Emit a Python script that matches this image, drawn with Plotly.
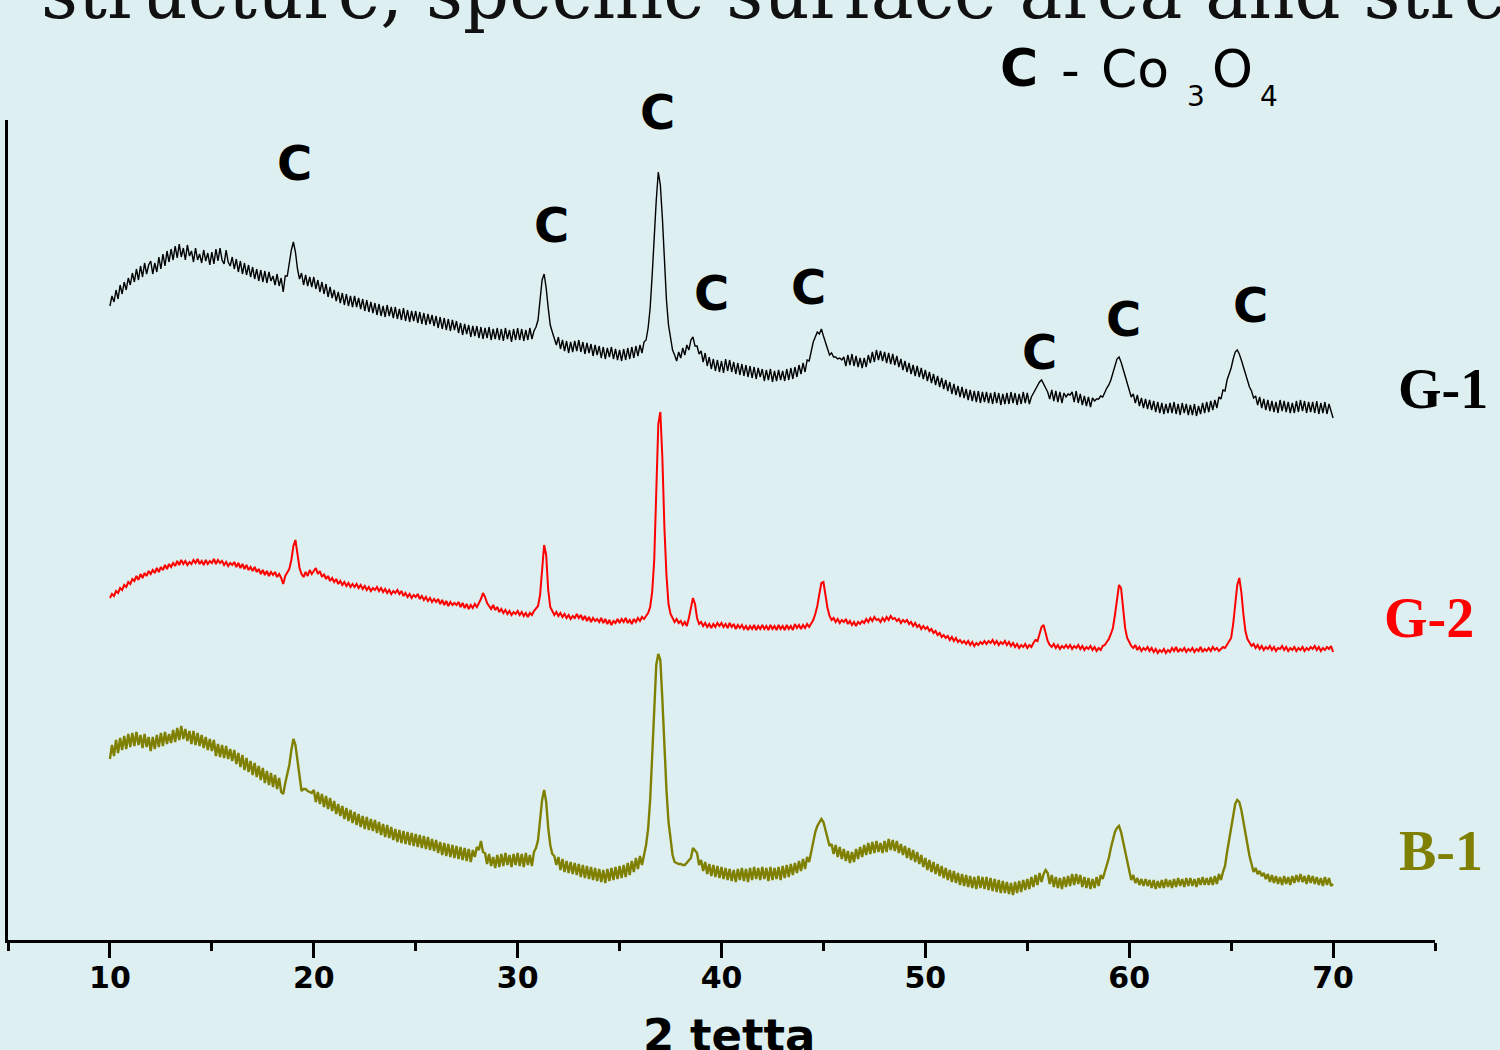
import numpy as np
import plotly.graph_objects as go

# ---------------- data (2-theta from 10.0 to 70.0 in 0.1 steps) -------------
G1 = [
    634, 644, 638, 650, 641, 655, 646, 658, 650, 662,
    655, 667, 658, 671, 660, 674, 663, 677, 666, 675,
    679, 666, 677, 668, 683, 671, 686, 674, 689, 678,
    691, 680, 694, 682, 696, 683, 692, 680, 695, 684,
    689, 678, 692, 680, 686, 677, 690, 679, 687, 675,
    688, 676, 691, 679, 692, 680, 676, 690, 678, 674,
    683, 671, 681, 668, 679, 666, 677, 665, 675, 663,
    673, 661, 671, 659, 670, 658, 669, 657, 668, 659,
    664, 655, 666, 654, 662, 648, 664, 664, 677, 690,
    698, 688, 671, 661, 667, 655, 665, 654, 663, 653,
    663, 651, 660, 648, 658, 646, 656, 643, 653, 642,
    650, 639, 648, 637, 647, 635, 646, 634, 644, 633,
    644, 633, 642, 631, 641, 629, 640, 628, 638, 627,
    637, 625, 636, 624, 634, 623, 635, 624, 633, 622,
    633, 621, 631, 620, 632, 619, 630, 618, 629, 619,
    629, 617, 628, 616, 627, 615, 626, 616, 625, 614,
    624, 612, 623, 611, 622, 610, 621, 609, 620, 610,
    619, 607, 617, 605, 616, 606, 615, 603, 614, 604,
    614, 602, 613, 601, 612, 602, 613, 600, 611, 601,
    612, 600, 611, 599, 612, 601, 610, 598, 611, 600,
    612, 600, 611, 599, 610, 600, 612, 601, 609, 613,
    620, 640, 660, 666, 652, 632, 615, 608, 600, 595,
    603, 591, 600, 589, 599, 587, 598, 588, 599, 589,
    600, 588, 598, 586, 597, 587, 596, 584, 595, 585,
    594, 582, 593, 581, 592, 583, 593, 581, 591, 580,
    590, 579, 591, 580, 592, 581, 593, 582, 594, 584,
    595, 587, 598, 600, 612, 632, 665, 705, 740, 768,
    755, 722, 680, 640, 615, 600, 590, 585, 579, 588,
    582, 592, 585, 595, 590, 600, 603, 594, 594, 586,
    589, 578, 587, 574, 583, 571, 581, 569, 580, 568,
    579, 567, 581, 569, 580, 568, 578, 566, 577, 565,
    576, 564, 575, 563, 574, 562, 573, 561, 572, 563,
    571, 559, 570, 560, 571, 558, 569, 559, 570, 560,
    569, 559, 571, 560, 572, 561, 573, 563, 575, 566,
    577, 568, 580, 579, 590, 598, 603, 608, 606, 611,
    604, 598, 592, 585, 587, 583, 583, 581, 582, 580,
    583, 574, 585, 575, 586, 574, 584, 573, 582, 572,
    582, 573, 585, 577, 588, 578, 590, 580, 589, 579,
    588, 577, 587, 576, 586, 575, 584, 573, 581, 570,
    579, 568, 577, 566, 575, 564, 574, 563, 572, 561,
    570, 559, 568, 557, 566, 555, 564, 553, 562, 551,
    560, 549, 558, 546, 556, 545, 554, 543, 553, 542,
    551, 540, 550, 539, 549, 538, 549, 537, 548, 538,
    548, 537, 547, 536, 548, 537, 547, 535, 546, 536,
    547, 536, 548, 537, 547, 535, 546, 536, 548, 537,
    547, 536, 543, 547, 551, 554, 558, 560, 556, 551,
    548, 541, 550, 539, 549, 538, 548, 537, 547, 543,
    546, 545, 548, 538, 549, 537, 546, 535, 544, 534,
    543, 533, 542, 539, 541, 541, 544, 543, 548, 552,
    555, 560, 567, 575, 581, 583, 578, 571, 564, 556,
    551, 543, 546, 537, 545, 534, 542, 532, 541, 531,
    540, 530, 539, 528, 538, 527, 537, 526, 536, 527,
    537, 527, 538, 526, 536, 525, 537, 527, 536, 525,
    535, 525, 536, 524, 534, 526, 537, 527, 538, 528,
    539, 530, 540, 532, 543, 541, 550, 549, 560, 566,
    572, 581, 588, 590, 586, 580, 573, 565, 558, 553,
    549, 542, 544, 535, 543, 532, 541, 530, 540, 529,
    539, 528, 538, 527, 540, 529, 539, 528, 538, 527,
    537, 527, 539, 528, 540, 529, 539, 527, 538, 528,
    538, 527, 539, 526, 537, 527, 538, 526, 536, 528,
    522,
]

G2 = [
    342, 346, 344, 349, 347, 352, 350, 355, 353, 358,
    356, 361, 359, 364, 360, 366, 362, 367, 364, 369,
    366, 370, 367, 372, 368, 373, 370, 375, 371, 376,
    373, 377, 374, 379, 375, 380, 376, 379, 375, 378,
    376, 380, 377, 381, 376, 379, 375, 380, 376, 379,
    377, 381, 376, 380, 377, 379, 375, 378, 374, 377,
    375, 378, 373, 377, 372, 376, 371, 375, 370, 373,
    369, 373, 368, 371, 366, 370, 365, 369, 364, 368,
    365, 368, 363, 366, 362, 356, 364, 367, 371, 380,
    394, 400, 385, 372, 366, 363, 368, 364, 370, 366,
    369, 372, 366, 369, 363, 366, 361, 364, 359, 362,
    358, 361, 356, 359, 355, 358, 354, 357, 353, 356,
    353, 356, 352, 355, 351, 354, 350, 353, 349, 352,
    350, 353, 349, 352, 348, 351, 347, 350, 346, 349,
    347, 350, 346, 349, 344, 347, 343, 346, 342, 345,
    343, 346, 341, 344, 340, 343, 339, 342, 338, 341,
    338, 341, 336, 340, 335, 339, 334, 338, 335, 337,
    335, 338, 333, 337, 332, 336, 331, 335, 332, 336,
    333, 337, 341, 347, 343, 337, 334, 331, 335, 330,
    333, 328, 331, 327, 330, 326, 329, 325, 328, 326,
    329, 325, 328, 324, 327, 323, 327, 325, 329, 331,
    334, 345, 372, 395, 385, 350, 333, 329, 325, 328,
    324, 327, 323, 326, 322, 325, 321, 324, 322, 326,
    322, 325, 320, 324, 319, 323, 318, 322, 319, 321,
    318, 322, 317, 321, 316, 320, 315, 319, 317, 321,
    317, 321, 318, 322, 317, 320, 316, 321, 318, 322,
    319, 323, 321, 324, 327, 333, 348, 380, 455, 516,
    528, 482, 412, 365, 336, 326, 322, 318, 321, 317,
    319, 315, 318, 314, 322, 332, 342, 336, 322, 316,
    318, 314, 317, 313, 316, 312, 316, 313, 317, 314,
    317, 313, 316, 312, 317, 313, 316, 311, 315, 312,
    315, 311, 314, 310, 314, 311, 315, 310, 314, 311,
    315, 311, 314, 310, 315, 311, 314, 310, 315, 311,
    314, 310, 315, 311, 314, 310, 316, 312, 315, 311,
    315, 312, 316, 313, 317, 320, 326, 334, 346, 357,
    358, 345, 332, 324, 320, 322, 318, 321, 317, 320,
    318, 321, 316, 319, 315, 318, 314, 318, 316, 319,
    317, 321, 318, 322, 319, 323, 320, 321, 318, 322,
    319, 323, 320, 324, 321, 322, 319, 321, 317, 320,
    318, 320, 316, 318, 314, 317, 313, 315, 311, 314,
    311, 313, 309, 311, 307, 309, 305, 307, 303, 305,
    302, 304, 300, 303, 299, 302, 298, 300, 297, 299,
    296, 299, 295, 298, 294, 297, 295, 298, 296, 299,
    296, 299, 297, 300, 296, 299, 295, 298, 296, 299,
    295, 298, 294, 297, 293, 296, 292, 295, 293, 296,
    292, 295, 293, 297, 300, 299, 305, 313, 315, 306,
    299, 295, 293, 296, 292, 295, 291, 294, 292, 295,
    292, 295, 291, 294, 292, 295, 291, 294, 290, 293,
    291, 294, 290, 293, 289, 292, 290, 294, 295, 298,
    301, 306, 312, 325, 342, 355, 352, 330, 312, 302,
    298, 294, 292, 295, 290, 293, 289, 292, 290, 293,
    289, 292, 288, 291, 287, 290, 288, 291, 287, 290,
    288, 292, 289, 293, 288, 291, 289, 292, 288, 291,
    289, 292, 288, 291, 289, 293, 288, 291, 289, 292,
    289, 293, 290, 292, 289, 291, 293, 292, 295, 298,
    302, 316, 335, 355, 362, 348, 326, 309, 301, 297,
    294, 296, 292, 295, 291, 294, 290, 293, 291, 294,
    290, 293, 289, 292, 291, 294, 290, 293, 289, 292,
    290, 293, 289, 292, 290, 293, 289, 292, 290, 293,
    291, 294, 290, 293, 289, 292, 290, 293, 291, 294,
    288,
]

B1 = [
    181, 195, 184, 200, 187, 202, 190, 204, 191, 206,
    193, 207, 194, 208, 195, 205, 192, 206, 193, 203,
    189, 203, 191, 205, 193, 207, 194, 208, 196, 206,
    197, 210, 198, 212, 200, 214, 201, 211, 199, 209,
    196, 209, 195, 207, 194, 205, 192, 203, 190, 201,
    189, 200, 184, 196, 183, 195, 182, 194, 181, 191,
    179, 190, 176, 187, 173, 185, 170, 182, 168, 179,
    165, 177, 163, 174, 160, 172, 157, 169, 155, 167,
    153, 165, 151, 162, 148, 146, 157, 166, 175, 190,
    201, 195, 178, 160, 149, 151, 151, 149, 148, 147,
    150, 138, 148, 136, 146, 133, 144, 131, 142, 129,
    139, 126, 136, 124, 134, 121, 132, 119, 130, 117,
    128, 115, 126, 113, 124, 111, 123, 110, 121, 109,
    120, 107, 118, 105, 116, 103, 115, 102, 113, 100,
    111, 98, 110, 97, 109, 96, 108, 95, 107, 94,
    106, 93, 105, 92, 104, 91, 103, 90, 101, 89,
    100, 87, 98, 85, 97, 84, 96, 83, 95, 82,
    94, 81, 93, 80, 92, 79, 91, 78, 90, 83,
    93, 90, 99, 88, 87, 76, 86, 74, 83, 72,
    85, 73, 86, 74, 87, 75, 85, 73, 86, 75,
    87, 74, 86, 73, 87, 75, 85, 74, 88, 92,
    100, 120, 140, 150, 138, 112, 95, 86, 84, 75,
    83, 70, 81, 68, 79, 67, 78, 66, 77, 65,
    76, 63, 75, 62, 74, 61, 73, 60, 72, 59,
    71, 58, 70, 57, 71, 59, 72, 60, 73, 61,
    74, 62, 75, 63, 77, 65, 79, 68, 82, 71,
    84, 75, 86, 95, 111, 140, 184, 235, 275, 286,
    280, 240, 190, 150, 118, 98, 85, 78, 77, 76,
    76, 75, 75, 77, 79, 82, 92, 90, 87, 75,
    80, 69, 78, 66, 76, 64, 75, 63, 74, 62,
    73, 61, 72, 60, 71, 59, 70, 58, 71, 60,
    72, 59, 71, 58, 72, 60, 73, 61, 72, 60,
    73, 61, 72, 59, 73, 60, 72, 61, 73, 60,
    74, 62, 75, 63, 76, 65, 77, 67, 79, 69,
    81, 71, 83, 78, 88, 100, 108, 114, 118, 121,
    118, 110, 104, 94, 96, 86, 95, 83, 93, 81,
    91, 79, 89, 77, 88, 78, 91, 81, 93, 83,
    95, 85, 97, 86, 98, 87, 99, 88, 97, 87,
    99, 88, 101, 90, 100, 89, 99, 87, 96, 85,
    94, 82, 92, 80, 90, 78, 88, 76, 85, 73,
    82, 70, 80, 68, 78, 66, 76, 64, 74, 62,
    72, 60, 70, 58, 69, 57, 67, 55, 66, 54,
    65, 53, 64, 52, 63, 51, 64, 52, 63, 51,
    63, 50, 62, 49, 61, 48, 60, 47, 59, 47,
    58, 46, 57, 45, 58, 47, 59, 48, 60, 50,
    61, 51, 63, 53, 65, 55, 67, 58, 66, 70,
    67, 56, 65, 53, 63, 52, 62, 51, 63, 53,
    64, 54, 66, 55, 66, 56, 65, 53, 63, 52,
    62, 51, 61, 52, 63, 54, 65, 61, 68, 74,
    82, 92, 101, 108, 112, 114, 108, 98, 88, 79,
    70, 60, 65, 57, 62, 55, 61, 54, 61, 54,
    60, 52, 60, 51, 59, 52, 60, 52, 61, 53,
    60, 52, 61, 53, 62, 54, 61, 53, 62, 54,
    62, 54, 61, 53, 62, 55, 63, 55, 62, 55,
    63, 55, 64, 56, 66, 60, 68, 74, 88, 100,
    112, 126, 136, 140, 138, 130, 118, 106, 94, 84,
    76, 68, 72, 66, 69, 64, 67, 61, 66, 58,
    65, 57, 64, 56, 63, 55, 64, 56, 63, 55,
    64, 57, 65, 58, 66, 58, 64, 56, 65, 57,
    64, 56, 63, 55, 62, 54, 63, 55, 62, 54,
    56,
]

START_2THETA = 10.0
STEP_2THETA = 0.1

SERIES_NAMES = ["G-1", "G-2", "B-1"]
SERIES_COLORS = ["#000000", "#ff0000", "#808000"]

# peak marks "C" (Co3O4): 2-theta position and label height (same units as the traces)
PEAK_X = [19.03, 31.68, 36.88, 39.49, 44.29, 55.58, 59.70, 65.93]
PEAK_Y = [777, 715, 828, 647, 653, 588, 621, 635]
PEAK_TEXT = "C"

X_TICKS = [10, 20, 30, 40, 50, 60, 70]
X_TICK_LABELS = ["10", "20", "30", "40", "50", "60", "70"]
X_MINOR = [5, 15, 25, 35, 45, 55, 65, 75]

X_TITLE = "2 tetta"
SLIDE_TITLE = "structure, specific surface area and strength"

# key "C - Co3O4", split in pieces: text, 2-theta position, height, size, bold
KEY_TEXT = ["C", "-", "Co", "3", "O", "4"]
KEY_X = [54.59, 57.14, 60.28, 63.27, 65.09, 66.85]
KEY_Y = [872, 870, 871, 843, 871, 843]
KEY_SIZE = [52, 52, 52, 28, 52, 28]
KEY_BOLD = [True, False, False, False, False, False]

# sample label positions (2-theta, height) - just right of the plot
LABEL_X = [75.4, 74.7, 75.3]
LABEL_Y = [551, 322, 89]

X_RANGE = [5, 75]
Y_RANGE = [0, 820]
BG = "#ddeff1"


def xp(v):
    return (v - X_RANGE[0]) / (X_RANGE[1] - X_RANGE[0])


def yp(v):
    return (v - Y_RANGE[0]) / (Y_RANGE[1] - Y_RANGE[0])


fig = go.Figure()
widths = [1.4, 2.0, 2.4]
for name, vals, col, w in zip(SERIES_NAMES, [G1, G2, B1], SERIES_COLORS, widths):
    x = np.round(START_2THETA + STEP_2THETA * np.arange(len(vals)), 2)
    fig.add_trace(go.Scatter(x=x, y=vals, mode="lines", name=name,
                             line=dict(color=col, width=w), showlegend=False))

annotations = []
for px, py in zip(PEAK_X, PEAK_Y):
    annotations.append(dict(x=xp(px), y=yp(py), xref="paper", yref="paper", text=PEAK_TEXT,
                            showarrow=False, xanchor="center", yanchor="middle",
                            font=dict(family="DejaVu Sans", size=48, color="black", weight="bold")))

for name, col, lx, ly in zip(SERIES_NAMES, SERIES_COLORS, LABEL_X, LABEL_Y):
    annotations.append(dict(x=xp(lx), y=yp(ly), xref="paper", yref="paper", text="<b>%s</b>" % name,
                            showarrow=False, xanchor="center", yanchor="middle",
                            font=dict(family="Liberation Serif", size=56, color=col)))

for t, kx, ky, ks, kb in zip(KEY_TEXT, KEY_X, KEY_Y, KEY_SIZE, KEY_BOLD):
    annotations.append(dict(x=xp(kx), y=yp(ky), xref="paper", yref="paper", text=t,
                            showarrow=False, xanchor="center", yanchor="middle",
                            font=dict(family="DejaVu Sans", size=ks, color="black",
                                      weight="bold" if kb else "normal")))

annotations.append(dict(x=xp(40.37), y=-0.117, xref="paper", yref="paper", text="<b>%s</b>" % X_TITLE,
                        showarrow=False, xanchor="center", yanchor="middle",
                        font=dict(family="DejaVu Sans", size=45, color="black")))

annotations.append(dict(x=0.0215, y=1.155, xref="paper", yref="paper", text=SLIDE_TITLE,
                        showarrow=False, xanchor="left", yanchor="middle",
                        font=dict(family="DejaVu Serif", size=72, color="#111111")))

fig.update_layout(
    width=1500, height=1050,
    margin=dict(l=8, r=65, t=120, b=110),
    paper_bgcolor=BG, plot_bgcolor=BG,
    annotations=annotations,
    showlegend=False,
)

fig.update_xaxes(range=X_RANGE, showline=True, linecolor="black", linewidth=3,
                 showgrid=False, zeroline=False,
                 tickmode="array", tickvals=X_TICKS, ticktext=X_TICK_LABELS,
                 ticks="outside", ticklen=15, tickwidth=3, tickcolor="black",
                 ticklabelstandoff=-6,
                 tickfont=dict(family="DejaVu Sans", size=30, color="black", weight="bold"),
                 minor=dict(tickvals=X_MINOR, ticks="outside", ticklen=8, tickwidth=3,
                            tickcolor="black", showgrid=False))
fig.update_yaxes(range=Y_RANGE, showline=True, linecolor="black", linewidth=3,
                 showgrid=False, zeroline=False, showticklabels=False, ticks="")

fig.write_html("out.html", config={"displayModeBar": False},
               post_script="document.body.style.margin='0';document.body.style.background='%s';" % BG)
